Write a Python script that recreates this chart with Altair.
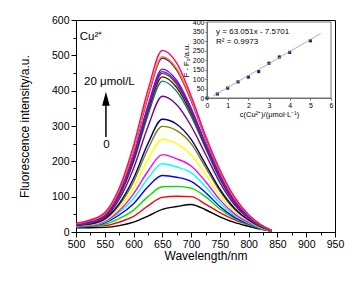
import altair as alt
import pandas as pd

wl = [500, 525, 550, 575, 600, 625, 650, 675, 700, 725, 750, 775, 800, 820, 840]

s00 = [12, 12, 13, 18, 28, 45, 64, 72, 78, 63, 43, 27, 16, 8, 2]
s01 = [15, 16, 18, 28, 44, 74, 98, 101, 100, 79, 55, 35, 20, 10, 3]
s02 = [15, 17, 22, 38, 62, 100, 128, 129, 124, 100, 65, 39, 21, 10, 3]
s03 = [16, 18, 26, 48, 80, 128, 160, 155, 143, 112, 72, 42, 23, 11, 3]
s04 = [17, 19, 28, 55, 95, 152, 193, 184, 168, 128, 82, 47, 25, 12, 3]
s05 = [18, 20, 30, 60, 108, 172, 219, 207, 187, 143, 91, 52, 27, 13, 3]
s06 = [18, 21, 33, 68, 125, 205, 262, 250, 218, 163, 104, 59, 31, 14, 3]
s07 = [19, 22, 36, 76, 142, 235, 299, 287, 250, 183, 116, 65, 33, 15, 3]
s08 = [19, 23, 37, 80, 152, 250, 319, 305, 262, 192, 121, 68, 34, 16, 3]
s09 = [20, 25, 40, 92, 180, 298, 384, 360, 300, 220, 140, 78, 38, 17, 4]
s10 = [21, 27, 43, 100, 198, 330, 427, 398, 328, 237, 150, 83, 40, 18, 4]
s11 = [21, 28, 44, 102, 203, 340, 439, 409, 336, 242, 153, 85, 41, 19, 4]
s12 = [21, 28, 45, 104, 208, 347, 449, 418, 342, 246, 156, 87, 42, 19, 4]
s13 = [22, 29, 46, 106, 211, 352, 454, 423, 346, 249, 158, 88, 42, 20, 4]
s14 = [22, 29, 47, 108, 215, 358, 461, 429, 351, 252, 160, 89, 43, 20, 4]
s15 = [23, 31, 50, 115, 229, 382, 492, 458, 372, 265, 169, 95, 46, 21, 4]
s16 = [23, 32, 51, 117, 232, 386, 496, 462, 375, 267, 171, 96, 47, 21, 4]
s17 = [25, 34, 55, 124, 245, 402, 514, 478, 385, 273, 176, 100, 49, 22, 4]

series = [s00, s01, s02, s03, s04, s05, s06, s07, s08, s09,
          s10, s11, s12, s13, s14, s15, s16, s17]
colors = ["#000000", "#FF0000", "#00E000", "#0000FF", "#00FFFF", "#FF00FF",
          "#FFFF00", "#808000", "#000080", "#800080", "#008080", "#800000",
          "#008000", "#9900CC", "#8000FF", "#1010C0", "#FF8000", "#FF0080"]

conc = [0, 0.5, 1, 1.5, 2, 2.5, 3, 3.5, 4, 5]
dF = [0, 21, 52, 85, 110, 139, 183, 216, 240, 301]
fit_x = [0.3, 5.5]
fit_y = [11, 339]

names = ["s%02d" % i for i in range(len(series))]
rows = []
for n, s in zip(names, series):
    for w, v in zip(wl, s):
        rows.append({"wl": w, "val": v, "series": n})
df = pd.DataFrame(rows)

FONT = "Liberation Sans"

xscale = alt.Scale(domain=[500, 950], nice=False)
yscale = alt.Scale(domain=[0, 600], nice=False)
x_axis = alt.Axis(values=list(range(500, 951, 25)),
                  labelExpr="datum.value % 50 === 0 ? datum.label : ''",
                  tickSize={"condition": {"test": "datum.value % 50 === 0", "value": 5}, "value": 3},
                  labelOverlap=False, labelFlush=False,
                  title="Wavelength/nm", titleFontSize=12, titlePadding=1,
                  labelFontSize=10.5, labelPadding=2, grid=False)
y_axis = alt.Axis(values=list(range(0, 601, 50)),
                  labelExpr="datum.value % 100 === 0 ? datum.label : ''",
                  tickSize={"condition": {"test": "datum.value % 100 === 0", "value": 5}, "value": 3},
                  labelOverlap=False, labelFlush=False,
                  title="Fluorescence intensity/a.u.", titleFontSize=12, titlePadding=20,
                  labelFontSize=10.5, labelPadding=2, grid=False)


def mx(f):
    return alt.X(f, scale=xscale, axis=x_axis)


def my(f):
    return alt.Y(f, scale=yscale, axis=y_axis)


lines = alt.Chart(df).mark_line(strokeWidth=1.4, interpolate="monotone").encode(
    x=mx("wl:Q"), y=my("val:Q"),
    color=alt.Color("series:N", scale=alt.Scale(domain=names, range=colors), legend=None),
)

ann = pd.DataFrame({"wl": [526, 558, 553], "val": [553, 425, 246],
                    "t": ["Cu²⁺", "20 μmol/L", "0"]})
ann_text = alt.Chart(ann).mark_text(font=FONT, fontSize=11.5, align="center", baseline="middle", color="black").encode(
    x=mx("wl:Q"), y=my("val:Q"), text="t:N")

arrow_df = pd.DataFrame({"wl": [552, 552], "val": [269, 365]})
shaft = alt.Chart(arrow_df).mark_line(color="black", strokeWidth=1.5).encode(x=mx("wl:Q"), y=my("val:Q"))
head = alt.Chart(pd.DataFrame({"wl": [552], "val": [377]})).mark_point(
    shape="M-0.55,1L0,-1L0.55,1Z", filled=True, color="black", size=196, opacity=1).encode(
    x=mx("wl:Q"), y=my("val:Q"))

main = alt.layer(lines, shaft, head, ann_text)

ixs = alt.Scale(domain=[0, 6], range=[131, 255], nice=False)
iys = alt.Scale(domain=[0, 400], range=[78, 2], nice=False)
ix_axis = alt.Axis(orient="bottom", offset=-134, values=[0, 1, 2, 3, 4, 5, 6], tickSize=2,
                   labelFontSize=7, labelPadding=1, title="c(Cu²⁺)/(μmol·L⁻¹)", titleFontSize=7.5,
                   titleFontWeight="normal", titlePadding=2, grid=False, domainColor="#666", tickColor="#666",
                   labelOverlap=False, labelFlush=False)
iy_axis = alt.Axis(orient="left", offset=-131, values=list(range(0, 401, 50)), tickSize=2,
                   labelFontSize=7, labelPadding=1, title="F - F₀/a.u.", titleFontSize=7.5,
                   titleFontWeight="normal", titlePadding=2, grid=False, domainColor="#666", tickColor="#666",
                   labelOverlap=False, labelFlush=False)


def ix(f):
    return alt.X(f, scale=ixs, axis=ix_axis)


def iy(f):
    return alt.Y(f, scale=iys, axis=iy_axis)


pts_df = pd.DataFrame({"c": conc, "d": dF})
pts = alt.Chart(pts_df).mark_square(size=10, color="#1a2a6c", opacity=1).encode(x=ix("c:Q"), y=iy("d:Q"))
fit = alt.Chart(pd.DataFrame({"c": fit_x, "d": fit_y})).mark_line(color="#999", strokeWidth=0.8).encode(
    x=ix("c:Q"), y=iy("d:Q"))
frame = alt.Chart(pd.DataFrame({"c": [0], "c2": [6], "d": [0], "d2": [400]})).mark_rect(
    fill=None, stroke="#777", strokeWidth=1).encode(
    x=ix("c:Q"), x2="c2:Q", y=iy("d:Q"), y2="d2:Q")
itxt = alt.Chart(pd.DataFrame({"c": [0.44, 0.44], "d": [348, 296],
                               "t": ["y = 63.051x - 7.5701", "R² = 0.9973"]})).mark_text(
    font=FONT, fontSize=8, align="left", baseline="middle", color="black").encode(
    x=ix("c:Q"), y=iy("d:Q"), text="t:N")

inset = alt.layer(pts, frame, fit, itxt)

chart = alt.layer(main, inset).resolve_scale(x="independent", y="independent").properties(
    width=259, height=212, autosize="none",
    padding={"left": 68, "top": 12, "right": 20, "bottom": 41},
    background="white",
).configure_view(stroke="black", strokeWidth=1).configure_axis(
    labelFont=FONT, titleFont=FONT, labelColor="black", titleColor="black",
    domainColor="black", tickColor="black", titleFontWeight="normal",
).configure_text(font=FONT)

chart.save("out.html", embed_options={"renderer": "svg", "actions": False})
